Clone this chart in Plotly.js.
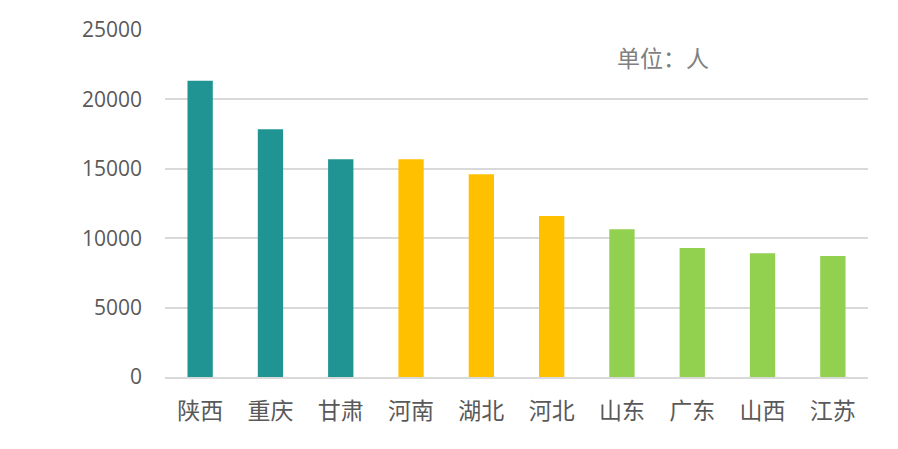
<!DOCTYPE html>
<html>
<head>
<meta charset="utf-8">
<script src="https://cdn.plot.ly/plotly-3.0.1.min.js"></script>
<style>html,body{margin:0;padding:0;background:#fff;}#chart{width:898px;height:449px;}</style>
</head>
<body>
<div id="chart"></div>
<script>
const categories = ["陕西", "重庆", "甘肃", "河南", "湖北", "河北", "山东", "广东", "山西", "江苏"];
const values = [21350, 17850, 15680, 15680, 14600, 11600, 10650, 9290, 8920, 8710];
const groups = [0, 0, 0, 1, 1, 1, 2, 2, 2, 2];
const yTicks = [0, 5000, 10000, 15000, 20000, 25000];
const unitLabel = "单位：人";

const palette = ["#1F9493", "#FFC000", "#92D050"];

const trace = {
  type: "bar",
  x: categories,
  y: values,
  marker: { color: groups.map(g => palette[g]) },
  hoverinfo: "x+y"
};

const layout = {
  width: 898,
  height: 449,
  margin: { l: 165, r: 30, t: 30, b: 72 },
  paper_bgcolor: "#ffffff",
  plot_bgcolor: "#ffffff",
  bargap: 0.64,
  showlegend: false,
  font: { family: "Noto Sans CJK SC, sans-serif", color: "#595959" },
  xaxis: {
    type: "category",
    showgrid: false,
    showline: true,
    linecolor: "#d9d9d9",
    linewidth: 2,
    ticks: "",
    tickfont: { size: 23, color: "#595959", family: "Noto Sans CJK SC, sans-serif" },
    ticklabelstandoff: 12
  },
  yaxis: {
    range: [0, 25000],
    tickvals: yTicks,
    ticktext: yTicks.map(String),
    showgrid: true,
    gridcolor: "#d9d9d9",
    gridwidth: 2,
    zeroline: false,
    showline: false,
    ticks: "",
    ticklabelstandoff: 22,
    tickfont: { size: 21, color: "#595959", family: "Open Sans, Liberation Sans, sans-serif" }
  },
  annotations: [{
    text: unitLabel,
    xref: "paper", yref: "paper",
    x: 0.708, y: 0.922,
    xanchor: "center", yanchor: "middle",
    showarrow: false,
    font: { size: 23, color: "#7f7f7f", family: "Noto Sans CJK SC, sans-serif" }
  }]
};

Plotly.newPlot("chart", [trace], layout, { displayModeBar: false, staticPlot: true });
</script>
</body>
</html>
